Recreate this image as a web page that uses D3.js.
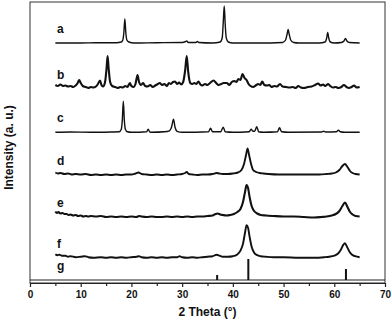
<!DOCTYPE html>
<html>
<head>
<meta charset="utf-8">
<script src="https://cdn.jsdelivr.net/npm/d3@7"></script>
<style>
  html, body { margin: 0; padding: 0; background: #fff; }
  svg { display: block; }
  text { font-family: "Liberation Sans", Arial, sans-serif; font-weight: bold; fill: #111; }
</style>
</head>
<body>
<svg id="chart" width="392" height="320"></svg>
<script>
// ---------------- DATA ----------------
const sampleLabels = ["a", "b", "c", "d", "e", "f", "g"];
// vertical offsets of each pattern (a.u.)
const offsets = [240, 194, 150.7, 108, 66, 25.3, 3];

const xTicks = [0, 10, 20, 30, 40, 50, 60, 70];
const xMinorTicks = [5, 15, 25, 35, 45, 55, 65];

// pattern a : [2theta, intensity]
const patternA = [[5,0],[10,0],[13,0.3],[17,0.3],[18.0,1],[18.3,3],[18.5,10],[18.7,24],[18.9,10],[19.1,3],[19.5,1],[20.5,0],[25,0.3],[30,0.5],[30.7,1.5],[30.9,2],[31.2,0.5],[32.7,0.5],[33,1.5],[33.3,0.5],[36,0],[37.5,1],[37.9,5],[38.1,20],[38.3,37],[38.5,18],[38.7,5],[39.1,1],[40,0],[45,0],[49.8,0.5],[50.4,3],[50.7,9],[50.9,13.5],[51.1,9],[51.4,3],[52,0.5],[53,0],[57,0],[58.2,1],[58.5,5],[58.7,10.5],[58.9,5],[59.2,1],[60,0],[61.4,0.5],[61.9,2],[62.2,4.5],[62.5,2],[63,0.5],[65,0]];

const patternB = [[5,4],[5.5,3],[6,4.5],[6.5,3],[7,3.5],[7.5,2.5],[8,3],[8.5,2],[9,3.5],[9.4,6],[9.7,9],[10,6],[10.4,3],[11,2],[11.5,1],[12,2],[12.5,1.5],[13,2.5],[13.4,5],[13.8,8.5],[14.1,4],[14.4,2.5],[14.8,7],[15.1,21],[15.3,33],[15.5,21],[15.8,7],[16.2,3],[16.8,2],[17.3,1],[17.8,2],[18.3,1.5],[18.8,3],[19.2,2],[19.7,6],[20,3],[20.4,2],[20.8,5],[21.2,14],[21.5,7],[21.9,4],[22.3,6],[22.7,3],[23.2,2.5],[23.7,4],[24.2,2],[24.7,3.5],[25.2,5],[25.6,6],[26,4],[26.5,5],[27,3],[27.4,6],[27.8,5],[28.2,7],[28.6,7.5],[29,5],[29.4,6.5],[29.8,4.5],[30.2,7],[30.6,19],[30.9,33],[31.2,17],[31.6,6],[32,5],[32.4,6],[32.8,5],[33.2,7.5],[33.6,4.5],[34,3.5],[34.5,5],[35,4],[35.5,6],[36.2,8.5],[36.7,6],[37.2,4],[37.7,5],[38.2,6],[38.8,6],[39.3,4],[39.8,7],[40.3,8],[40.7,7],[41.1,10],[41.5,9],[41.9,15],[42.3,11],[42.7,9],[43.1,5],[43.5,3],[44,2],[44.5,3.5],[45,5],[45.4,4],[45.8,7.5],[46.2,4],[46.7,3.5],[47.2,4],[47.6,2],[48.2,3],[48.7,2.5],[49.3,5],[49.8,2.5],[50.5,2],[51.2,1.5],[51.8,2],[52.4,1],[52.9,3],[53.4,1.5],[54,1],[54.8,2],[55.5,2.5],[56.2,4],[56.8,5.5],[57.3,3.5],[57.8,4.5],[58.2,3],[58.8,5],[59.2,3],[59.7,1.5],[60.3,2],[60.8,1],[61.4,2],[61.9,4],[62.4,2],[62.9,1],[63.4,2],[63.9,3.5],[64.4,1.5],[65,2]];

const patternC = [[5,0],[8,0.3],[12,0],[16,0.3],[17.6,0.5],[18.0,3],[18.2,12],[18.4,31],[18.6,12],[18.8,3],[19.2,0.5],[20,0],[23,0.5],[23.3,3],[23.6,0.5],[24,0],[26.5,0.5],[27.5,1.5],[27.9,5],[28.3,13],[28.6,5],[29,1],[30,0],[35.2,0.5],[35.6,4],[36,0.5],[37.6,0.5],[38.1,5],[38.5,0.5],[40,0],[43.2,0.5],[43.6,3],[44,1],[44.3,1],[44.7,5.5],[45.1,0.5],[46,0],[48.8,0.5],[49.2,4.5],[49.6,0.5],[51,0],[57.5,0.3],[57.9,1],[58.3,0.3],[60.4,0.5],[60.8,2],[61.2,0.5],[62,0],[65,0]];

const patternD = [[5,2.5],[5.5,1.5],[6,2],[6.8,1],[7.5,1.5],[8.2,0.5],[9,1],[10,0.5],[11,1],[12,0],[13,0.5],[14,0],[15,0.5],[16,0],[17,0.5],[18,0],[19,0.5],[20,0.5],[20.8,1.5],[21.4,2.5],[22,1],[23,0.5],[24,0],[25,0.5],[26,0],[27,0.5],[28,0],[29,0.5],[30,1],[30.6,2],[30.9,3],[31.3,1],[32,0.5],[33,0],[34,0.5],[35,0.5],[36,1],[36.8,2],[37.3,1.5],[38,1],[39,1],[40,1.5],[41,2.5],[41.7,5],[42.2,11],[42.6,20],[42.9,26.5],[43.2,20],[43.6,11],[44,5],[44.6,3],[45.3,2],[46,1.5],[47,1],[49,0.5],[52,0.5],[55,0.5],[57,0.5],[58.5,1],[59.5,1.5],[60.3,2.5],[61,5],[61.6,9],[62.1,11],[62.6,8],[63.1,4],[63.6,2],[64.2,1],[65,0.5]];

const patternE = [[5,5.5],[5.3,4],[5.6,5],[6,3.5],[6.4,4],[6.8,3],[7.2,3],[7.6,2],[8,2.5],[8.5,1.5],[9,2],[9.5,1],[10,1.5],[10.5,0.5],[11,1],[11.5,0.5],[12,1],[13,0.5],[14,1],[15,0],[16,0.5],[17,0],[18,0.5],[19,0],[20,0.5],[21,0],[21.5,1],[22,0.5],[23,0],[24,0.5],[25,0],[26,0],[27,0.5],[28,0],[29,0.5],[30,0],[31,0.5],[32,0],[33,0.5],[34,0.5],[35,1],[36,1.5],[36.6,3],[37,3.5],[37.5,2.5],[38,2],[38.7,1.5],[39.5,2],[40.2,3],[40.9,5],[41.5,8],[42,15],[42.4,25],[42.7,32],[43.0,29],[43.3,20],[43.7,11],[44.2,6],[44.8,3.5],[45.5,2],[46.5,1.5],[48,1],[50,0.5],[52,0.5],[54,0],[56,-0.5],[57.5,0],[58.5,0.5],[59.5,1.5],[60.3,3],[61,6],[61.6,11],[62.1,14.5],[62.6,10],[63.1,5],[63.6,2.5],[64.2,1],[65,0.5]];

const patternF = [[5,3.5],[5.4,2.5],[5.8,3],[6.3,2],[7,2],[7.5,1],[8,1.5],[9,0.5],[10,1],[10.8,1.5],[11.5,0.5],[12.5,0],[14,0.5],[15,0],[16,0.5],[17,0],[18,0.5],[19,0],[20,0.5],[21,1],[21.5,1.5],[22,0.5],[23,0],[24,0.5],[25,0],[26,0.5],[27,0],[28,0.5],[29,0.5],[29.5,1.5],[30,0.5],[31,0],[32,0.5],[33,0],[34,0.5],[35,1],[36,1.5],[36.8,3],[37.4,2],[38,1],[39,1],[40,1.5],[40.8,3],[41.5,7],[42,14],[42.4,25],[42.7,32.5],[43.0,30],[43.3,21],[43.7,11],[44.2,5],[44.8,2.5],[45.5,1.5],[46.5,1],[48,0.5],[50,0.5],[53,0],[56,0],[58,0.5],[59,1],[60,2],[60.7,4],[61.3,8],[61.8,13],[62.1,14.4],[62.5,11],[63,6],[63.5,3],[64.1,1.5],[65,0.5]];

// reference pattern g (stick positions and heights)
const refPositions = [36.9, 43.05, 62.3];
const refHeights = [5, 21, 11];

const patterns = [patternA, patternB, patternC, patternD, patternE, patternF];
const strokeWidths = [1.4, 2.1, 1.4, 1.9, 2.1, 1.9];

// ---------------- CHART ----------------
const svg = d3.select("#chart");
const mLeft = 30, mRight = 385, mTop = 2, mBottom = 283;

const x = d3.scaleLinear().domain([0, 70]).range([mLeft, mRight]);
const y = d3.scaleLinear().domain([0, 281]).range([mBottom, mTop]);

// frame
svg.append("rect")
  .attr("x", mLeft).attr("y", mTop)
  .attr("width", mRight - mLeft).attr("height", mBottom - mTop)
  .attr("fill", "none").attr("stroke", "#333").attr("stroke-width", 1);

// patterns
const line = d3.line()
  .x(d => x(d[0]))
  .curve(d3.curveMonotoneX);

patterns.forEach((p, i) => {
  svg.append("path")
    .datum(p)
    .attr("d", line.y(d => y(offsets[i] + d[1])))
    .attr("fill", "none")
    .attr("stroke", "#111")
    .attr("stroke-width", strokeWidths[i])
    .attr("stroke-linejoin", "round");
});

// reference sticks g
svg.append("line")
  .attr("x1", mLeft).attr("x2", mRight)
  .attr("y1", y(offsets[6])).attr("y2", y(offsets[6]))
  .attr("stroke", "#222").attr("stroke-width", 1.2);

svg.selectAll(".stick")
  .data(refPositions)
  .enter().append("line")
  .attr("class", "stick")
  .attr("x1", d => x(d)).attr("x2", d => x(d))
  .attr("y1", y(offsets[6]))
  .attr("y2", (d, i) => y(offsets[6] + refHeights[i]))
  .attr("stroke", "#111").attr("stroke-width", 2);

// sample labels
svg.selectAll(".lab")
  .data(sampleLabels)
  .enter().append("text")
  .attr("class", "lab")
  .attr("x", 57)
  .attr("y", (d, i) => y(offsets[i]) - 10)
  .attr("font-size", "12px")
  .text(d => d);

// x axis
const xAxis = d3.axisBottom(x)
  .tickValues(xTicks)
  .tickSize(4)
  .tickSizeOuter(0)
  .tickPadding(4)
  .tickFormat(d3.format("d"));

const gx = svg.append("g")
  .attr("transform", `translate(0,${mBottom})`)
  .call(xAxis);
gx.select(".domain").attr("stroke", "#222").attr("stroke-width", 1.2);
gx.selectAll(".tick line").attr("stroke", "#222").attr("stroke-width", 1.2);
gx.selectAll(".tick text")
  .attr("font-family", "'Liberation Sans', Arial, sans-serif")
  .attr("font-weight", "bold")
  .attr("font-size", "10px")
  .attr("fill", "#111");

const gxMinor = svg.append("g")
  .attr("transform", `translate(0,${mBottom})`)
  .call(d3.axisBottom(x).tickValues(xMinorTicks).tickSize(3).tickSizeOuter(0).tickFormat(""));
gxMinor.select(".domain").remove();
gxMinor.selectAll(".tick line").attr("stroke", "#222").attr("stroke-width", 1.2);

// axis titles
svg.append("text")
  .attr("x", (mLeft + mRight) / 2)
  .attr("y", 316)
  .attr("text-anchor", "middle")
  .attr("font-size", "12px")
  .text("2 Theta (°)");

svg.append("text")
  .attr("transform", `translate(13,${(mTop + mBottom) / 2 + 5}) rotate(-90)`)
  .attr("text-anchor", "middle")
  .attr("font-size", "12px")
  .text("Intensity (a. u.)");
</script>
</body>
</html>
